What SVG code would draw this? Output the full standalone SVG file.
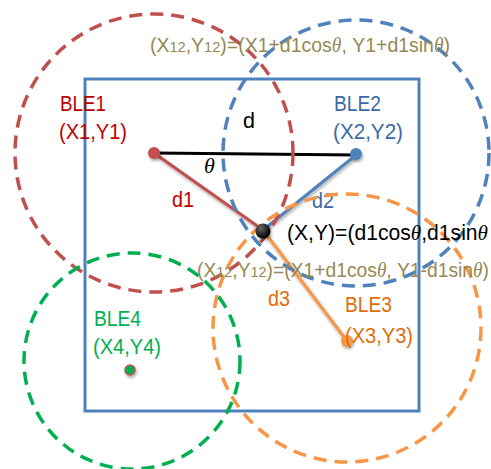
<svg xmlns="http://www.w3.org/2000/svg" width="491" height="469" viewBox="0 0 491 469">
<defs>
<filter id="sh" x="-50%" y="-50%" width="200%" height="200%">
<feDropShadow dx="1" dy="2" stdDeviation="1.5" flood-color="#000" flood-opacity="0.35"/>
</filter>
<radialGradient id="blk" cx="0.35" cy="0.3" r="0.7">
<stop offset="0" stop-color="#666"/>
<stop offset="1" stop-color="#000"/>
</radialGradient>
</defs>
<style>
text{font-family:"Liberation Sans",Arial,sans-serif;font-size:22px}
.th{font-family:"Liberation Serif","Times New Roman",serif;font-style:italic}
.f{font-size:20px;fill:#948a54}
.sub{font-size:15px}
.range{fill:none;stroke-width:3.5;stroke-dasharray:13 8}
.link{stroke-width:3;fill:none}
</style>
<rect width="491" height="469" fill="#fff"/>
<g id="area">
<rect x="85" y="79" width="334" height="332" fill="none" stroke="#4f81bd" stroke-width="3"/>
</g>
<g id="connectors">
<line class="link" x1="154" y1="153" x2="356" y2="155" stroke="#000"/>
<line class="link" x1="154" y1="153" x2="263" y2="230" stroke="#c0504d" filter="url(#sh)"/>
<line class="link" x1="356" y1="155" x2="263" y2="230" stroke="#4f81bd" filter="url(#sh)"/>
<line class="link" x1="263" y1="230" x2="347" y2="341" stroke="#f79646" filter="url(#sh)"/>
<text x="243" y="128" fill="#000" textLength="12" lengthAdjust="spacingAndGlyphs">d</text>
<text x="204" y="173" class="th" fill="#000">θ</text>
<text x="172" y="207" fill="#c00000" textLength="22" lengthAdjust="spacingAndGlyphs">d1</text>
<text x="312" y="208" fill="#3c6aa8" textLength="22" lengthAdjust="spacingAndGlyphs">d2</text>
<text x="268" y="306" fill="#e36c09" textLength="22" lengthAdjust="spacingAndGlyphs">d3</text>
</g>
<g id="BLE1">
<circle class="range" cx="154" cy="153" r="139" stroke="#c0504d"/>
<circle cx="154" cy="153" r="6" fill="#c0504d" filter="url(#sh)"/>
<text x="60" y="111" fill="#c00000" textLength="46" lengthAdjust="spacingAndGlyphs">BLE1</text>
<text x="59" y="139" fill="#c00000" textLength="68" lengthAdjust="spacingAndGlyphs">(X1,Y1)</text>
</g>
<g id="BLE2">
<circle class="range" cx="356" cy="153" r="133" stroke="#4f81bd"/>
<circle cx="356" cy="154" r="6" fill="#4f81bd" filter="url(#sh)"/>
<text x="334" y="111" fill="#3c6aa8" textLength="47" lengthAdjust="spacingAndGlyphs">BLE2</text>
<text x="333" y="139" fill="#3c6aa8" textLength="70" lengthAdjust="spacingAndGlyphs">(X2,Y2)</text>
</g>
<g id="BLE3">
<circle class="range" cx="347" cy="328" r="134" stroke="#f79646"/>
<circle cx="347" cy="341" r="6" fill="#f79646" filter="url(#sh)"/>
<text x="345" y="312" fill="#e36c09" textLength="47" lengthAdjust="spacingAndGlyphs">BLE3</text>
<text x="345" y="343" fill="#e36c09" textLength="68" lengthAdjust="spacingAndGlyphs">(X3,Y3)</text>
</g>
<g id="BLE4">
<circle class="range" cx="132" cy="361" r="108" stroke="#00b050"/>
<circle cx="130" cy="370" r="5" fill="#00b050" stroke="#c0504d" stroke-width="1.5" filter="url(#sh)"/>
<text x="94" y="326" fill="#00b050" textLength="47" lengthAdjust="spacingAndGlyphs">BLE4</text>
<text x="93" y="354" fill="#00b050" textLength="68" lengthAdjust="spacingAndGlyphs">(X4,Y4)</text>
</g>
<g id="XY">
<circle cx="263" cy="231" r="7.5" fill="url(#blk)" filter="url(#sh)"/>
<text x="287" y="240" fill="#000" textLength="201" lengthAdjust="spacingAndGlyphs">(X,Y)=(d1cos<tspan class="th">θ</tspan>,d1sin<tspan class="th">θ</tspan></text>
</g>
<g id="annotations">
<text x="150" y="52" class="f" textLength="300" lengthAdjust="spacingAndGlyphs">(X<tspan class="sub">12</tspan>,Y<tspan class="sub">12</tspan>)=(X1+d1cos<tspan class="th">θ</tspan>, Y1+d1sin<tspan class="th">θ</tspan>)</text>
<text x="197" y="277" class="f" textLength="292" lengthAdjust="spacingAndGlyphs">(X<tspan class="sub">12</tspan>,Y<tspan class="sub">12</tspan>)=(X1+d1cos<tspan class="th">θ</tspan>, Y1-d1sin<tspan class="th">θ</tspan>)</text>
</g>
</svg>
